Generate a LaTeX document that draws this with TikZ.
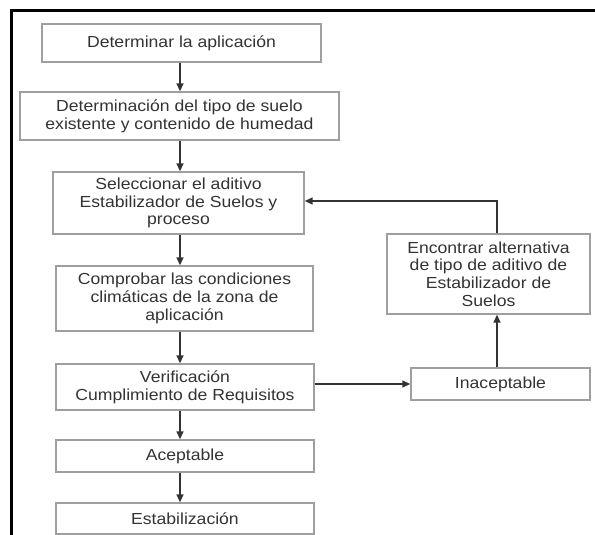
\documentclass[tikz,border=0pt]{standalone}
\usepackage{fontspec}
\setmainfont{Liberation Sans}[FakeStretch=1.1]
\usepackage{tikz}
\usetikzlibrary{positioning, arrows.meta, calc}
\usepackage{xcolor}

\begin{document}
\begin{tikzpicture}[
    x=1pt, y=-1pt,
    box/.style={rectangle, draw=gray!75, line width=1.4pt, inner sep=2pt,
                align=center, text=black!80, font=\fontsize{16}{17.7}\selectfont},
    flow/.style={draw=black!80, line width=1.6pt, -{Triangle[length=8pt,width=7pt]}}
]
\useasboundingbox (0,0) rectangle (595,535);
\draw[line width=3pt] (11,535) -- (11,11) -- (595,11);

\coordinate (spine) at (180,0);
\node[box, minimum width=279pt, minimum height=38pt] (b1) at (181.5,43) {Determinar la aplicación};
\node[box, minimum width=319pt, minimum height=48pt] (b2) at (179.5,116) {Determinación del tipo de suelo\\existente y contenido de humedad};
\node[box, minimum width=251pt, minimum height=62pt] (b3) at (178.5,203) {Seleccionar el aditivo\\Estabilizador de Suelos y\\proceso};
\node[box, minimum width=257pt, minimum height=65pt] (b4) at (184.5,298.5) {Comprobar las condiciones\\climáticas de la zona de\\aplicación};
\node[box, minimum width=258pt, minimum height=46pt] (b5) at (185,387) {Verificación\\Cumplimiento de Requisitos};
\node[box, minimum width=258pt, minimum height=32pt] (b6) at (185,456) {Aceptable};
\node[box, minimum width=258pt, minimum height=31pt] (b7) at (185,518.5) {Estabilización};

\node[box, minimum width=203pt, minimum height=80pt] (alt) at (488.5,274) {Encontrar alternativa\\de tipo de aditivo de\\Estabilizador de\\Suelos};
\node[box, minimum width=179pt, minimum height=32pt] (inac) at (500.5,384) {Inaceptable};
\coordinate (rise) at (497,201);

\draw[flow] (b1.south -| spine) -- (b2.north -| spine);
\draw[flow] (b2.south -| spine) -- (b3.north -| spine);
\draw[flow] (b3.south -| spine) -- (b4.north -| spine);
\draw[flow] (b4.south -| spine) -- (b5.north -| spine);
\draw[flow] (b5.south -| spine) -- (b6.north -| spine);
\draw[flow] (b6.south -| spine) -- (b7.north -| spine);

\draw[flow] (b5.east |- inac.west) -- (inac.west);
\draw[flow] (inac.north -| rise) -- (alt.south -| rise);
\draw[flow] (alt.north -| rise) -- (rise) -- (rise -| b3.east);
\end{tikzpicture}
\end{document}
